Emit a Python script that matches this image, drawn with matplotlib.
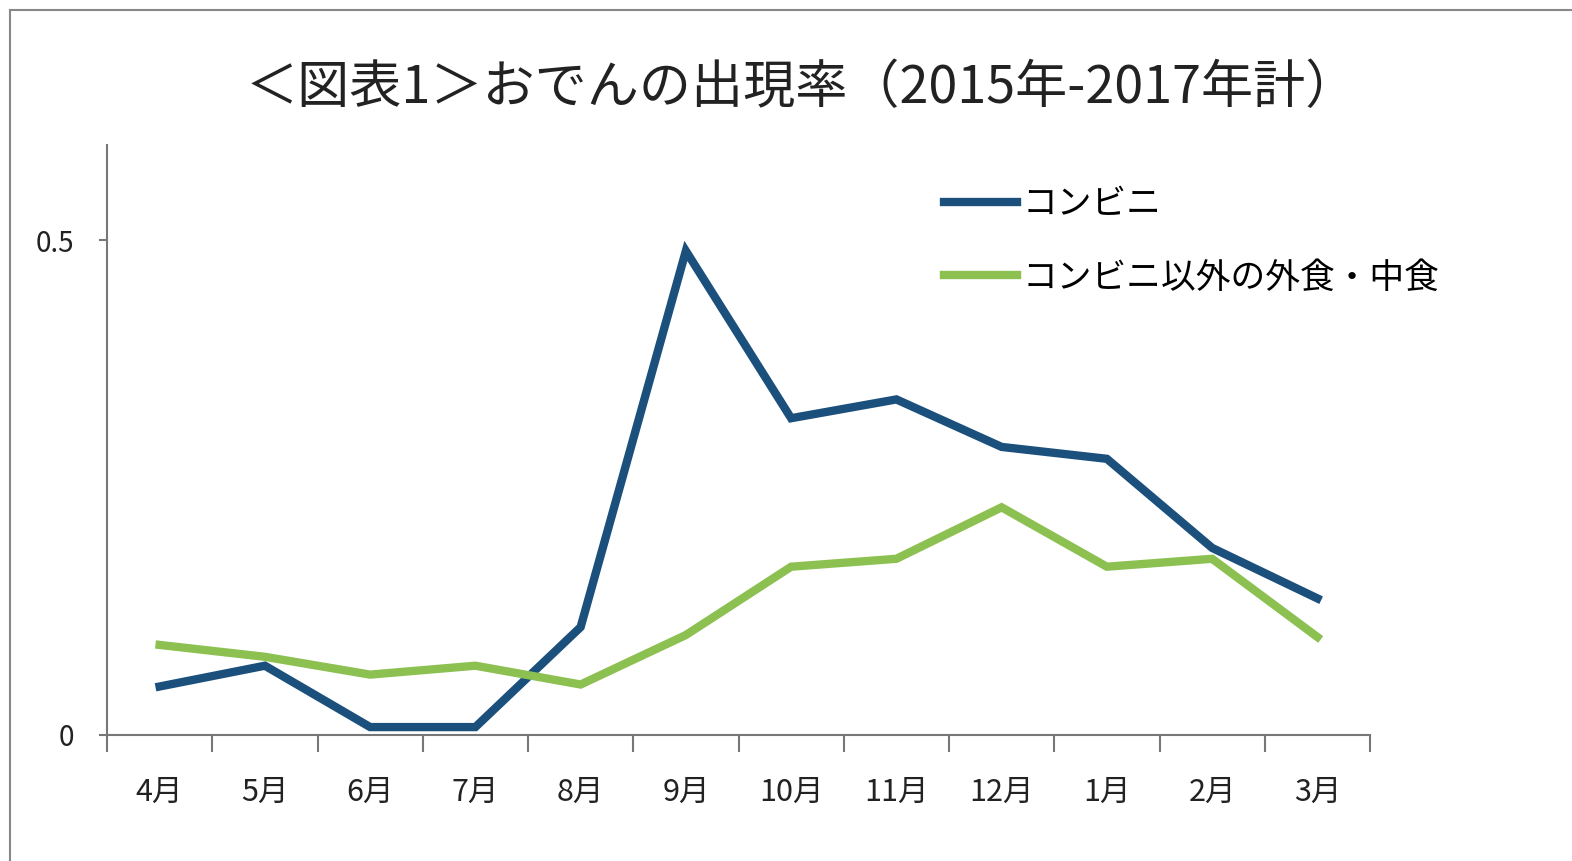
import matplotlib
matplotlib.use('Agg')
import matplotlib.pyplot as plt
from matplotlib.lines import Line2D
import numpy as np

plt.rcParams['font.family'] = ['Noto Sans CJK JP', 'DejaVu Sans']

months = ['4月', '5月', '6月', '7月', '8月', '9月', '10月', '11月', '12月', '1月', '2月', '3月']
konbini = [0.049, 0.070, 0.008, 0.008, 0.109, 0.489, 0.320, 0.339, 0.291, 0.279, 0.189, 0.138]
other = [0.091, 0.079, 0.061, 0.070, 0.051, 0.101, 0.170, 0.178, 0.230, 0.170, 0.178, 0.099]
series_names = ['コンビニ', 'コンビニ以外の外食・中食']
y_ticks = [0, 0.5]
y_tick_labels = ['0', '0.5']

fig = plt.figure(figsize=(15.72, 8.61), dpi=100)
ax = fig.add_axes([107 / 1572, 1 - 735 / 861, 1263 / 1572, 590 / 861])

x = np.arange(len(months))
ax.plot(x, konbini, color='#1b4f7c', lw=6, solid_joinstyle='miter', label=series_names[0])
ax.plot(x, other, color='#8cc152', lw=6, solid_joinstyle='miter', label=series_names[1])

ax.set_xlim(-0.5, len(months) - 0.5)
ax.set_ylim(0, 0.596)

# category boundaries get the tick marks, centers get the labels
ax.set_xticks(np.arange(-0.5, len(months)), labels=[''] * (len(months) + 1))
ax.set_xticks(x, labels=months, minor=True)
ax.tick_params(axis='x', which='major', direction='out', length=12, width=1.5, color='#777777')
ax.tick_params(axis='x', which='minor', length=0, pad=30, labelsize=22, labelcolor='#222222')
ax.set_yticks(y_ticks, labels=y_tick_labels)
ax.tick_params(axis='y', direction='out', length=6, width=1.5, color='#777777', pad=18,
               labelsize=20, labelcolor='#222222')

for side in ['top', 'right']:
    ax.spines[side].set_visible(False)
for side in ['left', 'bottom']:
    ax.spines[side].set_color('#777777')
    ax.spines[side].set_linewidth(1.5)

ax.legend(loc='upper left', bbox_to_anchor=(0.652, 0.952), frameon=False, fontsize=25,
          handlelength=2.1, handletextpad=0.15, labelspacing=1.1, borderaxespad=0)

fig.text(802 / 1572, 1 - 88 / 861, '＜図表1＞おでんの出現率（2015年-2017年計）', ha='center', va='center',
         fontsize=37.5, color='#222222')

# outer frame of the original image
fig.add_artist(Line2D([10 / 1572, 10 / 1572], [0, 1 - 10 / 861], color='#888888', lw=1.5))
fig.add_artist(Line2D([10 / 1572, 1], [1 - 10 / 861, 1 - 10 / 861], color='#888888', lw=1.5))

fig.savefig('out.png', dpi=100)
